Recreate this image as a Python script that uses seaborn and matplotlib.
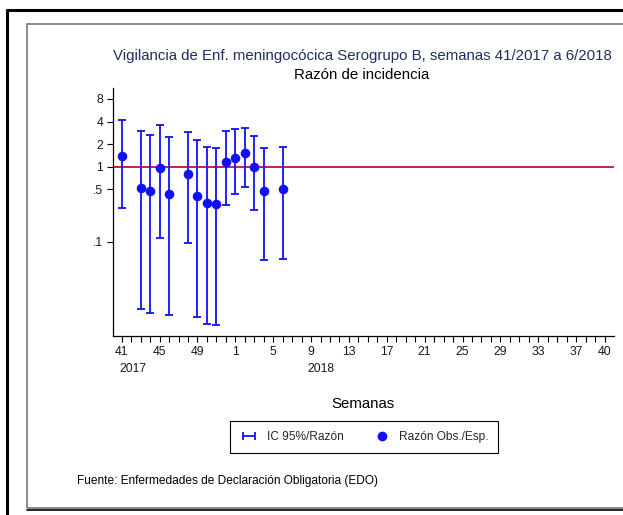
import numpy as np
import matplotlib
matplotlib.use("Agg")
import matplotlib.pyplot as plt
import seaborn as sns
import pandas as pd
from matplotlib.patches import Rectangle
from matplotlib.lines import Line2D

# semanas del eje (41/2017 ... 40/2018)
eje_semanas = list(range(41, 53)) + list(range(1, 41))
eje_anios = [2017] * 12 + [2018] * 40
# índices del eje que llevan etiqueta
idx_etiquetas = [0, 4, 8, 12, 16, 20, 24, 28, 32, 36, 40, 44, 48, 51]

# datos observados
semanas = [41, 43, 44, 45, 46, 48, 49, 50, 51, 52, 1, 2, 3, 4, 6]
anios = [2017, 2017, 2017, 2017, 2017, 2017, 2017, 2017, 2017, 2017, 2018, 2018, 2018, 2018, 2018]
razon = [1.40, 0.53, 0.47, 0.96, 0.435, 0.81, 0.41, 0.33, 0.32, 1.17, 1.32, 1.51, 0.99, 0.48, 0.50]
ic_inf = [0.286, 0.0129, 0.0114, 0.114, 0.0106, 0.096, 0.0099, 0.0080, 0.0078, 0.31, 0.43, 0.54, 0.27, 0.058, 0.060]
ic_sup = [4.17, 3.03, 2.63, 3.57, 2.49, 2.94, 2.30, 1.85, 1.80, 3.00, 3.16, 3.26, 2.55, 1.78, 1.85]

yticks = [8, 4, 2, 1, 0.5, 0.1]
ylabels = ["8", "4", "2", "1", ".5", ".1"]

# posición de cada semana en el eje
pos = {(w, a): i for i, (w, a) in enumerate(zip(eje_semanas, eje_anios))}

df = pd.DataFrame({"semana": semanas, "anio": anios, "razon": razon,
                   "inf": ic_inf, "sup": ic_sup})
df["x"] = [pos[(w, a)] for w, a in zip(df["semana"], df["anio"])]

sns.set_theme(style="white")
plt.rcParams["font.family"] = ["Liberation Sans", "DejaVu Sans"]

W, H = 623, 515
fig = plt.figure(figsize=(W / 100, H / 100), dpi=100)
ax = fig.add_axes([113 / W, 1 - 336 / H, (614 - 113) / W, (336 - 88) / H])

azul = "#1010ff"
rojo = "#c8234a"

ax.axhline(1, color=rojo, lw=1.4, zorder=1)
ax.errorbar(df["x"], df["razon"],
            yerr=[df["razon"] - df["inf"], df["sup"] - df["razon"]],
            fmt="none", ecolor=azul, elinewidth=1.3, capsize=2.8,
            capthick=1.3, zorder=2)
sns.scatterplot(data=df, x="x", y="razon", color=azul, s=48, edgecolor=azul,
                linewidth=0, ax=ax, zorder=3, legend=False)

ax.set_yscale("log")
ax.set_ylim(0.0056, 11.2)
ax.set_xlim(-0.92, 52.0)
ax.set_yticks(yticks)
ax.set_yticklabels(ylabels)
ax.minorticks_off()
ax.set_xticks(range(len(eje_semanas)))
ax.set_xticklabels([str(w) if i in idx_etiquetas else "" for i, w in enumerate(eje_semanas)])
ax.set_xlabel("")
ax.set_ylabel("")
ax.tick_params(axis="both", which="major", direction="out", length=4.5, width=0.8,
               color="black", labelsize=8.8, labelcolor="#1a1a1a", pad=2.5, bottom=True, left=True)
for s in ["top", "right"]:
    ax.spines[s].set_visible(False)
for s in ["left", "bottom"]:
    ax.spines[s].set_color("black")
    ax.spines[s].set_linewidth(0.9)

# años bajo el eje
tr = ax.get_xaxis_transform()
ax.text(pos[(41, 2017)] + 1.2, -0.135, "2017", transform=tr, ha="center", va="center", fontsize=8.8, color="#1a1a1a")
ax.text(pos[(9, 2018)] + 1.1, -0.135, "2018", transform=tr, ha="center", va="center", fontsize=8.8, color="#1a1a1a")

fig.text(362 / W, 1 - 56 / H, "Vigilancia de Enf. meningocócica Serogrupo B, semanas 41/2017 a 6/2018",
         ha="center", va="center", fontsize=10.8, color="#1e2f62")
fig.text(362 / W, 1 - 75 / H, "Razón de incidencia", ha="center", va="center", fontsize=10.8, color="black")
fig.text(363 / W, 1 - 404 / H, "Semanas", ha="center", va="center", fontsize=10.8, color="black")
fig.text(77 / W, 1 - 481 / H, "Fuente: Enfermedades de Declaración Obligatoria (EDO)",
         ha="left", va="center", fontsize=8.6, color="black")

# leyenda
h_ic = ax.errorbar([np.nan], [np.nan], xerr=[[np.nan], [np.nan]], fmt="none",
                   ecolor=azul, elinewidth=1.3, capsize=3, capthick=1.3)
h_pt = Line2D([], [], marker="o", ls="none", color=azul, markersize=6)
leg = fig.legend([h_ic, h_pt], ["IC 95%/Razón", "Razón Obs./Esp."], loc="center",
                 bbox_to_anchor=(364 / W, 1 - 437 / H), ncol=2, fontsize=8.6,
                 frameon=True, fancybox=False, edgecolor="black", framealpha=1,
                 borderpad=0.8, columnspacing=2.4, handlelength=1.6, handletextpad=0.7)
leg.get_frame().set_linewidth(0.8)

# marcos
fig.patches.append(Rectangle((27 / W, 1 - 508 / H), 2.0, (508 - 24) / H, transform=fig.transFigure,
                             fill=False, edgecolor="#777777", lw=1.2))
fig.add_artist(Line2D([7 / W, 7 / W], [0, 1 - 10 / H], transform=fig.transFigure, color="black", lw=2.2))
fig.add_artist(Line2D([7 / W, 1], [1 - 10 / H, 1 - 10 / H], transform=fig.transFigure, color="black", lw=2.2))
fig.add_artist(Line2D([27 / W, 1], [1 - 509.5 / H, 1 - 509.5 / H], transform=fig.transFigure, color="black", lw=1.2))

fig.savefig("out.png", dpi=100, facecolor="white")
